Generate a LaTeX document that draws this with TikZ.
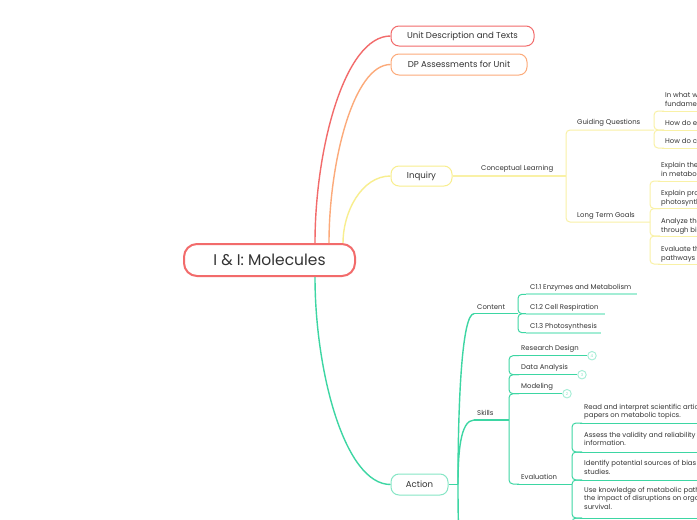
\documentclass[tikz,border=0pt]{standalone}
\usepackage{fontspec}
\setmainfont{Poppins}
\definecolor{cRed}{HTML}{F26B6B}
\definecolor{cOra}{HTML}{FCAA7A}
\definecolor{cYel}{HTML}{F8EE8E}
\definecolor{cYelL}{HTML}{F9F1A6}
\definecolor{cGrn}{HTML}{3DD6A3}
\definecolor{cGrnL}{HTML}{86E6C5}
\definecolor{cMint}{HTML}{A3EDD5}
\definecolor{txt}{HTML}{333333}
\newcommand\fMain{\fontsize{15.5}{18}\selectfont}
\newcommand\fB{\fontsize{8.6}{10}\selectfont}
\newcommand\fS{\fontsize{6.9}{8.6}\selectfont}
\newcommand\fT{\fontsize{4}{4}\selectfont}
\tikzset{
  mainnode/.style={draw=cRed, line width=2pt, fill=white, rounded corners=13pt, minimum width=171pt, minimum height=32pt, inner sep=0pt, font=\fMain, text=txt},
  lvlone/.style={draw, line width=1pt, fill=white, rounded corners=8pt, minimum height=20pt, inner sep=0pt, font=\fB, text=txt},
  conn/.style={line width=1.4pt},
  lbl/.style={anchor=base west, inner sep=0pt, font=\fS, text=txt},
  itm/.style={anchor=south west, inner sep=0pt, font=\fS, text=txt, align=left},
  ybr/.style={draw=cYelL, line width=1pt, rounded corners=4pt},
  gbr/.style={draw=cGrn, line width=1pt, rounded corners=4pt},
  mintln/.style={draw=cMint, line width=2pt},
  circ/.style={circle, draw=cMint, line width=0.9pt, fill=white, minimum size=8.5pt, inner sep=0pt, font=\fT, text=cGrnL},
}
\begin{document}
\begin{tikzpicture}[x=1pt,y=-1pt]
\path[use as bounding box, fill=white] (0,0) rectangle (697,520);
\clip (0,0) rectangle (697,520);

% ---------- main + level one ----------
\node[mainnode] (main) at (269.5,260) {I \& I: Molecules};
\node[lvlone, draw=cRed, minimum width=143pt] (udt) at (462.5,36) {Unit Description and Texts};
\node[lvlone, draw=cOra, minimum width=136pt, minimum height=21pt] (dpa) at (459,64.5) {DP Assessments for Unit};
\node[lvlone, draw=cYel, minimum width=61pt] (inq) at (421.5,176) {Inquiry};
\node[lvlone, draw=cGrnL, minimum width=57pt, minimum height=21pt] (act) at (419.5,484.5) {Action};

\coordinate (mR) at ([xshift=45.5pt]main.north);
\coordinate (mO) at ([xshift=59.5pt]main.north);
\coordinate (mY) at ([xshift=73.5pt]main.north);
\coordinate (mG) at ([xshift=45.5pt]main.south);
\draw[cRed, conn] (mR) .. controls +(0,-94) and +(-46,0) .. (udt.west);
\draw[cOra, conn] (mO) .. controls +(0,-81) and +(-37,0) .. (dpa.west);
\draw[cYel, conn] (mY) .. controls +(0,-31) and +(-29,0) .. (inq.west);
\draw[cGrn, conn] (mG) .. controls +(0,94) and +(-46,0) .. (act.west);

% ---------- Inquiry ----------
\coordinate (ibM) at (566,176);
\coordinate (ibT) at (566,130);
\coordinate (ibB) at (566,222);
\coordinate (gqE) at (654,130);
\coordinate (ltgE) at (650,222);
\draw[cYelL, line width=1.8pt] (inq.east) -- (ibM);
\node[lbl] (cl) at (481,170.5) {Conceptual Learning};
\path[ybr] (gqE) -- (ibT) -- (ibB) -- (ltgE);
\node[lbl] (gq) at (577,124.5) {Guiding Questions};
\node[lbl] (ltg) at (577,217) {Long Term Goals};

% guiding questions children
\coordinate (g1) at (654,111);
\coordinate (g2) at (654,130);
\coordinate (g3) at (654,148);
\path[ybr] ([xshift=10pt]g1) -- (g1) -- (g2) -- ([xshift=10pt]g2);
\path[ybr] ([xshift=10pt]g2) -- (g2) -- (g3) -- ([xshift=10pt]g3);
\foreach \c in {g1,g2,g3} \draw[cYelL, line width=1pt] ([xshift=8pt]\c) -- ([xshift=80pt]\c);
\node[itm] (gqa) at (665,109.1) {In what ways are molecules the\\fundamental building blocks of life?\strut};
\node[lbl] (gqb) at (665,125.5) {How do enzymes control metabolic reactions?};
\node[lbl] (gqc) at (665,143.5) {How do cells obtain energy from molecules?};

% long term goals children
\coordinate (l1) at (650,181);
\coordinate (l2) at (650,208.5);
\coordinate (l3) at (650,236);
\coordinate (l4) at (650,264);
\path[ybr] ([xshift=10pt]l1) -- (l1) -- (l2) -- ([xshift=10pt]l2);
\path[ybr] ([xshift=10pt]l2) -- (l2) -- (l3) -- ([xshift=10pt]l3);
\path[ybr] ([xshift=10pt]l3) -- (l3) -- (l4) -- ([xshift=10pt]l4);
\foreach \c in {l1,l2,l3,l4} \draw[cYelL, line width=1pt] ([xshift=8pt]\c) -- ([xshift=80pt]\c);
\node[itm] (lga) at (661,179.1) {Explain the role of enzymes\\in metabolic pathways.\strut};
\node[itm] (lgb) at (661,207.1) {Explain processes of cell respiration and\\photosynthesis.\strut};
\node[itm] (lgc) at (661,235.1) {Analyze the flow of energy\\through biological systems.\strut};
\node[itm] (lgd) at (661,263.1) {Evaluate the impact of disruptions to\\pathways on organisms.\strut};

% ---------- Action ----------
\coordinate (aR) at (458,484.5);
\coordinate (cntS) at (474,313.7);
\coordinate (cntB) at (518,313.7);
\coordinate (sklS) at (474,420);
\coordinate (sklB) at (509,420);
\coordinate (nxt) at (474,600);
\draw[cGrn, conn] (act.east) -- (aR);
\draw[cGrn, conn] (aR) .. controls +(0,-84) and +(-12,0) .. (cntS);
\draw[cGrn, conn] (aR) .. controls +(0,-30) and +(-14,0) .. (sklS);
\draw[cGrn, conn] (aR) .. controls +(0,60) and +(-14,0) .. (nxt);
\draw[cGrn, line width=1.2pt] (cntS) -- (cntB);
\draw[cGrn, line width=1.2pt] (sklS) -- (sklB);
\node[lbl] (cnt) at (477,309.5) {Content};
\node[lbl] (skl) at (477,415) {Skills};

% content children
\coordinate (k1) at (518,294.3);
\coordinate (k2) at (518,313.7);
\coordinate (k3) at (518,332.7);
\path[gbr] ([xshift=10pt]k1) -- (k1) -- (k2) -- ([xshift=10pt]k2);
\path[gbr] ([xshift=10pt]k2) -- (k2) -- (k3) -- ([xshift=10pt]k3);
\draw[mintln] ([xshift=8pt]k1) -- (637,294.3);
\draw[mintln] ([xshift=8pt]k2) -- (605,313.7);
\draw[mintln] ([xshift=8pt]k3) -- (601,332.7);
\node[lbl] (c11) at (530,289.5) {C1.1 Enzymes and Metabolism};
\node[lbl] (c12) at (530,309) {C1.2 Cell Respiration};
\node[lbl] (c13) at (530,328) {C1.3 Photosynthesis};

% skills children
\coordinate (s1) at (509,355.7);
\coordinate (s2) at (509,374.7);
\coordinate (s3) at (509,393.7);
\coordinate (s4) at (509,484);
\path[gbr] ([xshift=10pt]s1) -- (s1) -- (s2) -- ([xshift=10pt]s2);
\path[gbr] ([xshift=10pt]s2) -- (s2) -- (s3) -- ([xshift=10pt]s3);
\path[gbr] ([xshift=10pt]s3) -- (s3) -- (s4) -- ([xshift=10pt]s4);
\node[circ] (n4) at (592,355.7) {4};
\node[circ] (n3) at (582,374.7) {3};
\node[circ] (n2) at (567,393.7) {2};
\draw[cGrn, line width=1pt] ([xshift=8pt]s1) -- (n4);
\draw[cGrn, line width=1pt] ([xshift=8pt]s2) -- (n3);
\draw[cGrn, line width=1pt] ([xshift=8pt]s3) -- (n2);
\coordinate (evB) at (572,484);
\draw[cGrn, line width=1pt] ([xshift=8pt]s4) -- (evB);
\node[lbl] (rd) at (521,350.5) {Research Design};
\node[lbl] (da) at (521,369.5) {Data Analysis};
\node[lbl] (md) at (521,388.5) {Modeling};
\node[lbl] (ev) at (521,479.5) {Evaluation};

% evaluation children
\coordinate (e1) at (572,423);
\coordinate (e2) at (572,452);
\coordinate (e3) at (572,480);
\coordinate (e4) at (572,518);
\coordinate (e5) at (572,556);
\path[gbr] ([xshift=10pt]e1) -- (e1) -- (e2) -- ([xshift=10pt]e2);
\path[gbr] ([xshift=10pt]e2) -- (e2) -- (e3) -- ([xshift=10pt]e3);
\path[gbr] ([xshift=10pt]e3) -- (e3) -- (e4) -- ([xshift=10pt]e4);
\path[gbr] ([xshift=10pt]e4) -- (e4) -- (e5) -- ([xshift=10pt]e5);
\foreach \c in {e1,e2,e3,e4} \draw[cGrn, line width=1pt] ([xshift=8pt]\c) -- ([xshift=140pt]\c);
\node[itm] (ea) at (584,420.6) {Read and interpret scientific articles and research\\papers on metabolic topics.\strut};
\node[itm] (eb) at (584,448.6) {Assess the validity and reliability of scientific\\information.\strut};
\node[itm] (ec) at (584,477.1) {Identify potential sources of bias in scientific\\studies.\strut};
\node[itm] (ed) at (584,512.1) {Use knowledge of metabolic pathways to predict\\the impact of disruptions on organism\\survival.\strut};
\end{tikzpicture}
\end{document}
